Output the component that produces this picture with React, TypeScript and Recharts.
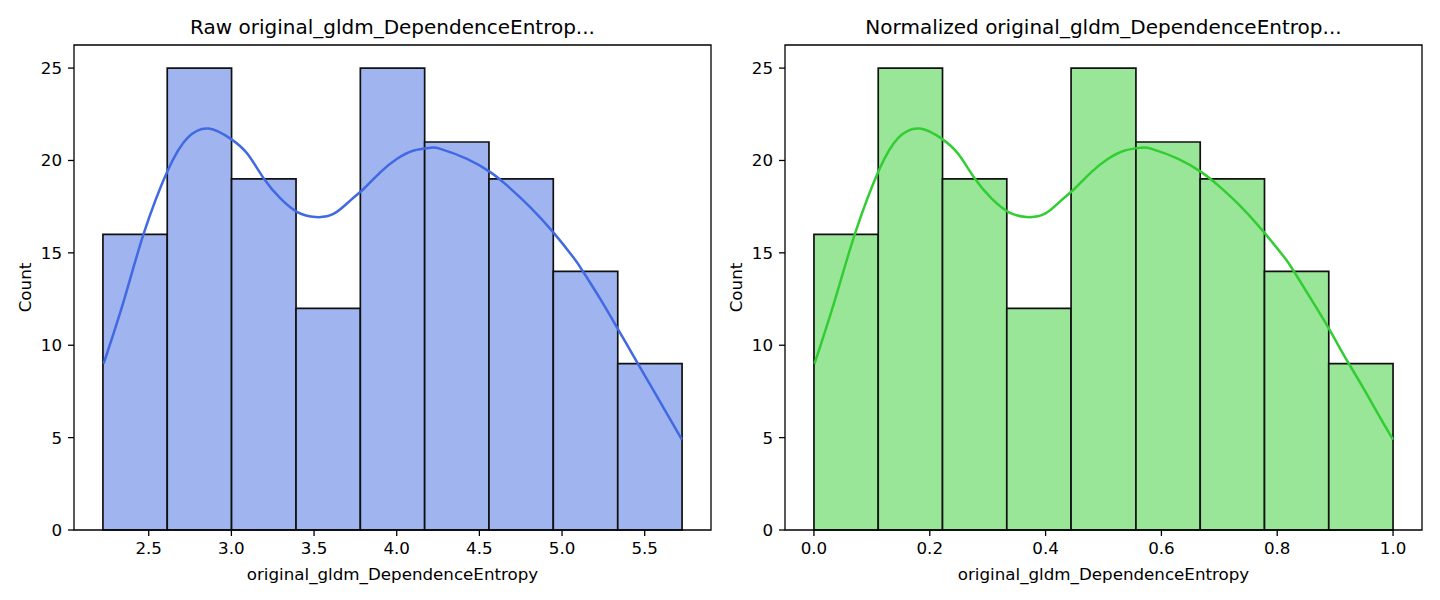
import React from 'react';
import {
  ComposedChart,
  Line,
  XAxis,
  YAxis,
  ReferenceArea,
} from 'recharts';

// histogram bins (same counts in both panels)
const binCounts = [16, 25, 19, 12, 25, 21, 19, 14, 9];
const rawEdges = [2.223, 2.612, 3.001, 3.391, 3.78, 4.169, 4.558, 4.947, 5.337, 5.726];
const normEdges = [0, 0.111, 0.222, 0.333, 0.444, 0.556, 0.667, 0.778, 0.889, 1.0];

// kde curve
const kdeCounts = [
  9.0, 12.43, 16.05, 19.46, 21.24, 21.73, 21.17, 20.36, 19.01, 17.93, 17.21, 16.94,
  17.12, 17.84, 18.47, 19.37, 20.09, 20.54, 20.69, 20.63, 20.09, 19.37, 18.65, 17.48,
  16.12, 14.77, 13.99, 12.52, 10.86, 9.47, 7.88, 6.29, 4.89,
];
const rawKdeX = [
  2.227, 2.35, 2.47, 2.615, 2.736, 2.863, 2.996, 3.097, 3.197, 3.298, 3.399, 3.509,
  3.62, 3.72, 3.801, 3.902, 4.002, 4.103, 4.203, 4.264, 4.425, 4.566, 4.667, 4.807,
  4.946, 5.067, 5.127, 5.23, 5.339, 5.429, 5.532, 5.635, 5.725,
];
const normKdeX = [
  0.001, 0.036, 0.071, 0.112, 0.146, 0.183, 0.221, 0.249, 0.278, 0.307, 0.336, 0.367,
  0.399, 0.427, 0.45, 0.479, 0.508, 0.537, 0.565, 0.583, 0.629, 0.669, 0.698, 0.738,
  0.777, 0.812, 0.829, 0.858, 0.89, 0.915, 0.945, 0.974, 1.0,
];

const countTicks = [0, 5, 10, 15, 20, 25];
const rawTicks = [2.5, 3.0, 3.5, 4.0, 4.5, 5.0, 5.5];
const normTicks = [0, 0.2, 0.4, 0.6, 0.8, 1.0];

const FONT = '"DejaVu Sans", sans-serif';
const tickStyle = { fontSize: 16.7, fill: '#000', fontFamily: FONT };
const Y_MAX = 26.25;

interface PanelProps {
  left: number;
  plotLeft: number;
  plotRight: number;
  title: string;
  edges: number[];
  kdeX: number[];
  xDomain: [number, number];
  xTicks: number[];
  fill: string;
  stroke: string;
}

function YLabel({ viewBox, cx }: any) {
  const x = viewBox.x + cx;
  const y = viewBox.y + viewBox.height / 2;
  return (
    <text
      x={x}
      y={y}
      transform={`rotate(-90, ${x}, ${y})`}
      textAnchor="middle"
      dominantBaseline="central"
      style={{ fontSize: 16.7, fill: '#000', fontFamily: FONT }}
    >
      Count
    </text>
  );
}

function Panel(p: PanelProps) {
  const kde = p.kdeX.map((x, i) => ({ x, y: kdeCounts[i] }));
  const yAxisWidth = p.plotLeft - p.left;
  const rightMargin = p.left + 720 - p.plotRight;
  return (
    <div style={{ position: 'absolute', left: p.left, top: 0, width: 720, height: 600 }}>
      <svg
        width={720}
        height={45}
        style={{ position: 'absolute', left: 0, top: 0 }}
      >
        <text
          x={(p.plotLeft + p.plotRight) / 2 - p.left}
          y={34}
          textAnchor="middle"
          style={{ fontSize: 20, fill: '#000', fontFamily: FONT }}
        >
          {p.title}
        </text>
      </svg>
      <ComposedChart
        width={720}
        height={600}
        margin={{ top: 45, right: rightMargin, bottom: 40, left: 0 }}
        style={{ position: 'absolute', left: 0, top: 0 }}
      >
        <XAxis
          xAxisId="main"
          type="number"
          dataKey="x"
          domain={p.xDomain}
          ticks={p.xTicks}
          interval={0}
          allowDataOverflow
          height={30}
          tick={tickStyle}
          tickLine={{ stroke: '#000', strokeWidth: 1.3 }}
          axisLine={false}
          tickSize={6}
          tickMargin={6}
          tickFormatter={(v: number) => v.toFixed(1)}
          label={{
            value: 'original_gldm_DependenceEntropy',
            position: 'bottom',
            offset: 8,
            style: { fontSize: 16.7, fill: '#000', fontFamily: FONT },
          }}
        />
        <YAxis
          yAxisId="count"
          type="number"
          domain={[0, Y_MAX]}
          ticks={countTicks}
          interval={0}
          allowDataOverflow
          width={yAxisWidth}
          tick={tickStyle}
          tickLine={{ stroke: '#000', strokeWidth: 1.3 }}
          axisLine={false}
          tickSize={6}
          tickMargin={6}
          label={{ content: <YLabel cx={yAxisWidth - 49} /> }}
        />
        {binCounts.map((c, i) => (
          <ReferenceArea
            key={i}
            xAxisId="main"
            yAxisId="count"
            x1={p.edges[i]}
            x2={p.edges[i + 1]}
            y1={0}
            y2={c}
            fill={p.fill}
            fillOpacity={1}
            stroke="#111"
            strokeWidth={1.7}
          />
        ))}
        {/* axes frame (all four spines) */}
        <ReferenceArea
          xAxisId="main"
          yAxisId="count"
          x1={p.xDomain[0]}
          x2={p.xDomain[1]}
          y1={0}
          y2={Y_MAX}
          fill="none"
          fillOpacity={0}
          stroke="#000"
          strokeWidth={1.3}
          ifOverflow="visible"
        />
        <Line
          xAxisId="main"
          yAxisId="count"
          data={kde}
          dataKey="y"
          type="natural"
          stroke={p.stroke}
          strokeWidth={2.5}
          dot={false}
          activeDot={false}
          isAnimationActive={false}
        />
      </ComposedChart>
    </div>
  );
}

export default function App() {
  return (
    <div style={{ position: 'absolute', left: 0, top: 0, width: 1440, height: 600, background: '#fff' }}>
      <Panel
        left={0}
        plotLeft={74}
        plotRight={711}
        title="Raw original_gldm_DependenceEntrop..."
        edges={rawEdges}
        kdeX={rawKdeX}
        xDomain={[2.048, 5.901]}
        xTicks={rawTicks}
        fill="#a0b4f0"
        stroke="#4169e1"
      />
      <Panel
        left={720}
        plotLeft={785}
        plotRight={1422}
        title="Normalized original_gldm_DependenceEntrop..."
        edges={normEdges}
        kdeX={normKdeX}
        xDomain={[-0.05, 1.05]}
        xTicks={normTicks}
        fill="#99e699"
        stroke="#32cd32"
      />
    </div>
  );
}
